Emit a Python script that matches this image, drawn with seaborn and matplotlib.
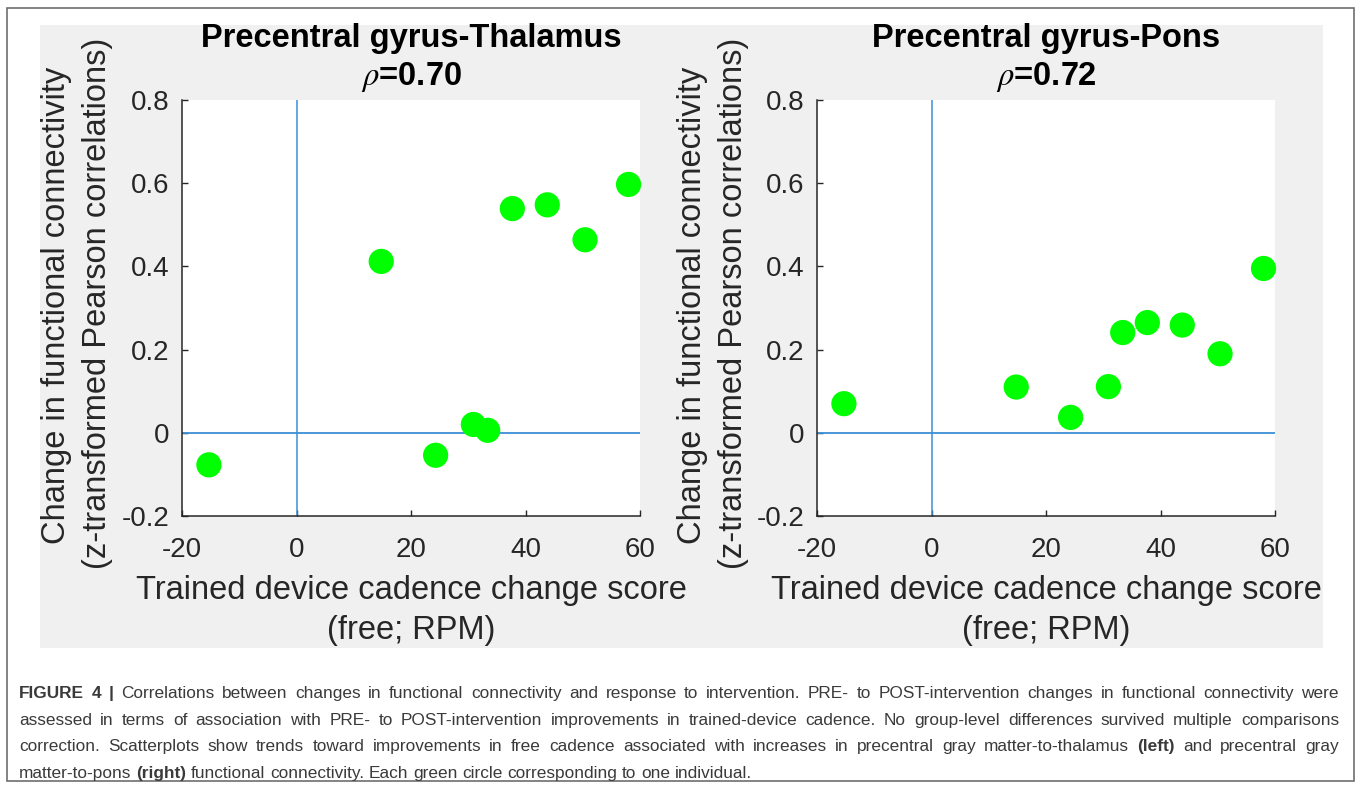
import pandas as pd
import seaborn as sns
import matplotlib.pyplot as plt
from matplotlib.patches import Rectangle

# cadence change score (free; RPM), same individuals in both panels
cadence_change = [-15.3, 14.8, 24.3, 30.9, 33.4, 37.7, 43.8, 50.4, 58.0]
# change in functional connectivity (z-transformed Pearson r)
fc_thalamus = [-0.077, 0.412, -0.054, 0.020, 0.006, 0.539, 0.548, 0.464, 0.597]
fc_pons = [0.070, 0.110, 0.037, 0.111, 0.241, 0.265, 0.259, 0.190, 0.395]

panel_titles = ["Precentral gyrus-Thalamus", "Precentral gyrus-Pons"]
rho_values = ["0.70", "0.72"]
x_ticks = [-20, 0, 20, 40, 60]
x_ticklabels = ["-20", "0", "20", "40", "60"]
y_ticks = [-0.2, 0, 0.2, 0.4, 0.6, 0.8]
y_ticklabels = ["-0.2", "0", "0.2", "0.4", "0.6", "0.8"]
xlabel_lines = ["Trained device cadence change score", "(free; RPM)"]
ylabel_lines = ["Change in functional connectivity", "(z-transformed Pearson correlations)"]

caption = [
    [("FIGURE 4 |", True), (" Correlations between changes in functional connectivity and response to intervention. "
                            "PRE- to POST-intervention changes in functional connectivity were", False)],
    [("assessed in terms of association with PRE- to POST-intervention improvements in trained-device cadence. "
      "No group-level differences survived multiple comparisons", False)],
    [("correction. Scatterplots show trends toward improvements in free cadence associated with increases in "
      "precentral gray matter-to-thalamus", False), ("(left)", True), ("and precentral gray", False)],
    [("matter-to-pons", False), ("(right)", True),
     ("functional connectivity. Each green circle corresponding to one individual.", False)],
]

sns.set_style("white")
plt.rcParams['font.family'] = ['Liberation Sans', 'DejaVu Sans']
plt.rcParams['mathtext.fontset'] = 'stix'

W, H = 1357, 787
fig = plt.figure(figsize=(W / 100, H / 100), dpi=100)
fig.set_facecolor("white")

def fx(px):
    return px / W

def fy(py):
    return 1 - py / H

# outer frame and grey figure panel (behind the axes)
fig.patches.append(Rectangle((fx(7), fy(781)), fx(1354) - fx(7), (781 - 8) / H, transform=fig.transFigure,
                             facecolor="none", edgecolor="#6e6e6e", lw=1.2, zorder=-2))
fig.patches.append(Rectangle((fx(40), fy(648)), fx(1323) - fx(40), (648 - 25) / H, transform=fig.transFigure,
                             facecolor="#f0f0f0", edgecolor="none", zorder=-1))

axis_col = "#262626"
line_col = "#3a8fd6"
panels = [(182, fc_thalamus), (817, fc_pons)]

for i, (left, fc) in enumerate(panels):
    ax = fig.add_axes([fx(left), fy(516), 458 / W, 416 / H])
    df = pd.DataFrame({"cadence": cadence_change, "fc": fc})
    ax.axhline(0, color=line_col, lw=1.3, zorder=1)
    ax.axvline(0, color=line_col, lw=1.1, zorder=1)
    sns.scatterplot(data=df, x="cadence", y="fc", ax=ax, color="#00ff00", s=330,
                    edgecolor="none", zorder=3, clip_on=False)
    ax.set_xlim(-20, 60)
    ax.set_ylim(-0.2, 0.8)
    ax.set_xticks(x_ticks, labels=x_ticklabels)
    ax.set_yticks(y_ticks, labels=y_ticklabels)
    ax.set_xlabel("")
    ax.set_ylabel("")
    ax.tick_params(direction="in", length=4, width=1, colors=axis_col, labelsize=20,
                   left=True, bottom=True)
    ax.tick_params(axis="y", pad=9)
    ax.tick_params(axis="x", pad=15)
    for side in ["top", "right"]:
        ax.spines[side].set_visible(False)
    for side in ["left", "bottom"]:
        ax.spines[side].set_color(axis_col)
        ax.spines[side].set_linewidth(1.1)
    ax.set_facecolor("white")

    cx = left + 229
    fig.text(fx(cx), fy(38), panel_titles[i], ha="center", va="center", fontsize=23.5,
             fontweight="bold", color="black")
    fig.text(fx(cx), fy(77), r"$\rho$=" + rho_values[i], ha="center", va="center", fontsize=23.5,
             fontweight="bold", color="black")
    fig.text(fx(cx), fy(590), xlabel_lines[0], ha="center", va="center", fontsize=23.5, color=axis_col)
    fig.text(fx(cx), fy(630), xlabel_lines[1], ha="center", va="center", fontsize=23.5, color=axis_col)
    fig.text(fx(left - 125), fy(305), ylabel_lines[0], ha="center", va="center", rotation=90,
             fontsize=23.5, color=axis_col)
    fig.text(fx(left - 84), fy(303), ylabel_lines[1], ha="center", va="center", rotation=90,
             fontsize=23.5, color=axis_col)

# caption, justified like the journal layout
renderer = fig.canvas.get_renderer()
cap_size = 12.4
cap_col = "#3a3a3a"
cap_left, cap_right = 19, 1339
cap_base = [698, 725, 751, 778]
for n, segs in enumerate(caption):
    words = []
    for txt, bold in segs:
        for w in txt.split():
            words.append((w, bold))
    items = [fig.text(0, fy(cap_base[n]), w, fontsize=cap_size, color=cap_col, va="baseline", ha="left",
                      fontweight="bold" if b else "normal") for w, b in words]
    widths = [t.get_window_extent(renderer).width for t in items]
    space = cap_size * 100 / 72 * 0.278
    if n < len(caption) - 1:
        gap = (cap_right - cap_left - sum(widths)) / (len(items) - 1)
        gap = max(gap, space * 0.6)
    else:
        gap = space
    x = cap_left
    for t, w in zip(items, widths):
        t.set_x(fx(x))
        x += w + gap

fig.savefig("out.png", dpi=100)
